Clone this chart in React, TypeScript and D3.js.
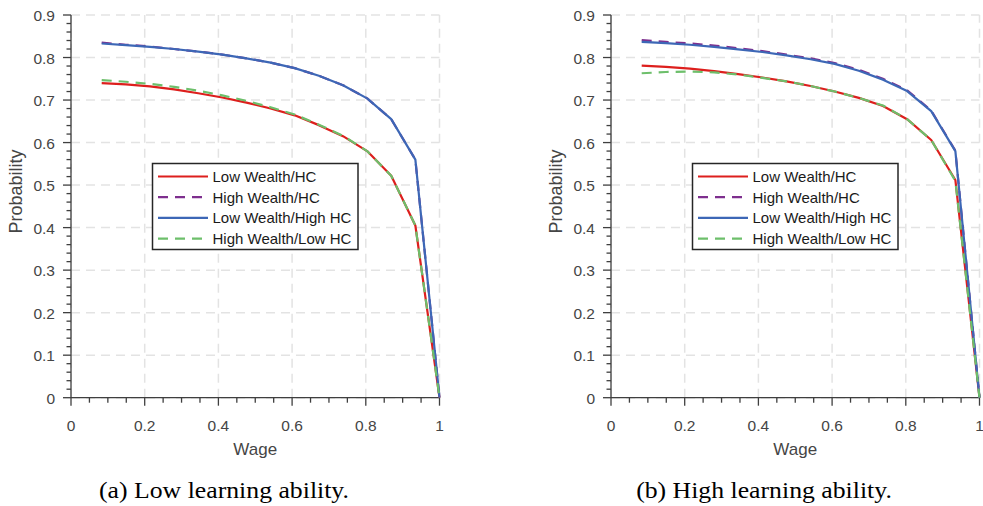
import React from "react";
import * as d3 from "d3";

// Wage grid: 15 points from 1/12 to 1
const wages = [0.0833, 0.1488, 0.2143, 0.2798, 0.3452, 0.4107, 0.4762, 0.5417, 0.6071, 0.6726, 0.7381, 0.8036, 0.869, 0.9345, 1.0];

// Panel (a): low learning ability
const lowRed = [0.740, 0.737, 0.732, 0.725, 0.716, 0.706, 0.694, 0.680, 0.664, 0.641, 0.615, 0.580, 0.522, 0.405, 0.0];
const lowPurple = [0.835, 0.830, 0.826, 0.820, 0.814, 0.807, 0.798, 0.788, 0.775, 0.757, 0.735, 0.704, 0.655, 0.560, 0.0];
const lowBlue = [0.833, 0.829, 0.825, 0.820, 0.814, 0.807, 0.798, 0.788, 0.775, 0.757, 0.735, 0.704, 0.655, 0.560, 0.0];
const lowGreen = [0.747, 0.743, 0.738, 0.731, 0.722, 0.711, 0.698, 0.683, 0.666, 0.642, 0.616, 0.580, 0.522, 0.405, 0.0];

// Panel (b): high learning ability
const highRed = [0.781, 0.778, 0.774, 0.768, 0.761, 0.753, 0.744, 0.733, 0.720, 0.705, 0.686, 0.655, 0.606, 0.512, 0.0];
const highPurple = [0.841, 0.837, 0.833, 0.828, 0.822, 0.815, 0.807, 0.798, 0.787, 0.771, 0.750, 0.723, 0.675, 0.581, 0.0];
const highBlue = [0.837, 0.834, 0.830, 0.825, 0.819, 0.813, 0.805, 0.796, 0.785, 0.769, 0.748, 0.721, 0.674, 0.580, 0.0];
const highGreen = [0.763, 0.766, 0.767, 0.765, 0.760, 0.752, 0.744, 0.733, 0.720, 0.705, 0.687, 0.655, 0.606, 0.510, 0.0];

const seriesNames = ["Low Wealth/HC", "High Wealth/HC", "Low Wealth/High HC", "High Wealth/Low HC"];
const xTicks = [0, 0.2, 0.4, 0.6, 0.8, 1];
const yTicks = [0, 0.1, 0.2, 0.3, 0.4, 0.5, 0.6, 0.7, 0.8, 0.9];
const captions = ["(a) Low learning ability.", "(b) High learning ability."];

const colors = ["#dd1f1d", "#7e2f8e", "#3d67b6", "#6dbf6b"];
const dashes = [null, "10,7", null, "10,7"];

const W = 983;
const H = 506;
const axisColor = "#3f3f3f";
const sans = "Liberation Sans, Arial, Helvetica, sans-serif";
const serif = "Liberation Serif, Times New Roman, serif";

function Panel({ ox, data, caption }: { ox: number; data: number[][]; caption: string }) {
  const x = d3.scaleLinear().domain([0, 1]).range([ox + 71, ox + 439.5]);
  const y = d3.scaleLinear().domain([0, 0.9]).range([397.7, 15]);
  const line = d3
    .line<[number, number]>()
    .x((d) => x(d[0]))
    .y((d) => y(d[1]));

  const xMinor = d3.range(0, 1.0001, 0.05);
  const yMinor = d3.range(0, 0.9001, 0.02);

  const legX = ox + 152.5;
  const legY = 163.5;
  const legW = 205.5;
  const legH = 86;

  return (
    <g>
      {/* grid */}
      {yTicks.map((t) => (
        <line key={"gy" + t} x1={x(0)} x2={x(1)} y1={y(t)} y2={y(t)} stroke="#e3e3e3" strokeWidth={1.5} strokeDasharray="9,6" />
      ))}
      {xTicks.map((t) => (
        <line key={"gx" + t} x1={x(t)} x2={x(t)} y1={y(0)} y2={y(0.9)} stroke="#e3e3e3" strokeWidth={1.5} strokeDasharray="9,6" />
      ))}

      {/* axes */}
      <line x1={x(0)} x2={x(0)} y1={y(0)} y2={y(0.9)} stroke={axisColor} strokeWidth={1.3} />
      <line x1={x(0)} x2={x(1)} y1={y(0)} y2={y(0)} stroke={axisColor} strokeWidth={1.3} />
      {yMinor.map((t, i) => (
        <line key={"ym" + i} x1={x(0) - (i % 5 === 0 ? 8 : 4.5)} x2={x(0)} y1={y(t)} y2={y(t)} stroke={axisColor} strokeWidth={1.3} />
      ))}
      {xMinor.map((t, i) => (
        <line key={"xm" + i} x1={x(t)} x2={x(t)} y1={y(0)} y2={y(0) + (i % 4 === 0 ? 8 : 5)} stroke={axisColor} strokeWidth={1.3} />
      ))}
      {yTicks.map((t) => (
        <text key={"yl" + t} x={x(0) - 16} y={y(t) + 6} textAnchor="end" fontSize={15.5} fontFamily={sans} fill="#454545">
          {d3.format("~g")(t)}
        </text>
      ))}
      {xTicks.map((t) => (
        <text key={"xl" + t} x={x(t)} y={431} textAnchor="middle" fontSize={15.5} fontFamily={sans} fill="#454545">
          {d3.format("~g")(t)}
        </text>
      ))}
      <text x={x(0.5)} y={455} textAnchor="middle" fontSize={17} fontFamily={sans} fill="#454545">
        Wage
      </text>
      <text transform={`translate(${ox + 22},${y(0.485)}) rotate(-90)`} textAnchor="middle" fontSize={18} fontFamily={sans} fill="#454545">
        Probability
      </text>

      {/* curves */}
      {data.map((vals, k) => (
        <path
          key={"s" + k}
          d={line(wages.map((w, i) => [w, vals[i]] as [number, number])) || ""}
          fill="none"
          stroke={colors[k]}
          strokeWidth={2.2}
          strokeDasharray={dashes[k] || undefined}
          strokeLinejoin="round"
        />
      ))}

      {/* legend */}
      <rect x={legX} y={legY} width={legW} height={legH} fill="#ffffff" stroke="#262626" strokeWidth={1.5} />
      {seriesNames.map((name, k) => {
        const ry = legY + 13 + k * 20.7;
        return (
          <g key={"lg" + k}>
            <line x1={legX + 5.5} x2={legX + 55.5} y1={ry} y2={ry} stroke={colors[k]} strokeWidth={2.2} strokeDasharray={dashes[k] || undefined} />
            <text x={legX + 60} y={ry + 5.3} fontSize={15} fontFamily={sans} fill="#1a1a1a">
              {name}
            </text>
          </g>
        );
      })}

      {/* caption */}
      <text transform={`translate(${ox + 224},497.5) scale(1.12,1)`} textAnchor="middle" fontSize={23} fontFamily={serif} fill="#000">
        {caption}
      </text>
    </g>
  );
}

export default function App() {
  return (
    <svg width={W} height={H} viewBox={`0 0 ${W} ${H}`} style={{ position: "absolute", left: 0, top: 0, background: "#fff" }}>
      <rect x={0} y={0} width={W} height={H} fill="#ffffff" />
      <Panel ox={0} data={[lowRed, lowPurple, lowBlue, lowGreen]} caption={captions[0]} />
      <Panel ox={540} data={[highRed, highPurple, highBlue, highGreen]} caption={captions[1]} />
    </svg>
  );
}
